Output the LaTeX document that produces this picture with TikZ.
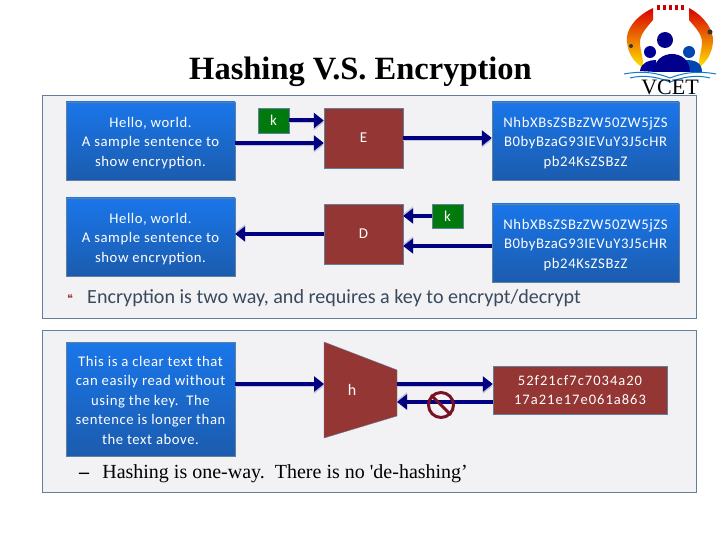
\documentclass[tikz,border=0pt]{standalone}
\usepackage{fontspec}
\setmainfont{Liberation Serif}
\newfontfamily\rawserif{Liberation Serif}
\newfontfamily\calfont{Carlito}
\newfontfamily\boxfont[LetterSpace=4]{Carlito}
\newfontfamily\hexfont[LetterSpace=7]{Carlito}
\newfontfamily\symfont{DejaVu Sans}
\usetikzlibrary{arrows.meta}
\definecolor{panelfill}{HTML}{F2F2F4}
\definecolor{panelline}{HTML}{627F9E}
\definecolor{blueup}{HTML}{1A76EA}
\definecolor{bluedn}{HTML}{1B5CAE}
\definecolor{brownbox}{HTML}{943634}
\definecolor{greenbox}{HTML}{007A0C}
\definecolor{navyarr}{HTML}{000080}
\definecolor{shadearr}{HTML}{C4C4DE}
\definecolor{bodytext}{HTML}{3A4A5C}
\definecolor{noring}{HTML}{7A1226}
\newcommand{\topstrut}[1]{\rule{0pt}{#1pt}}

\begin{document}
\begin{tikzpicture}[
    x=1pt, y=-1pt,
    panel/.style={draw=panelline, fill=panelfill, line width=1pt, minimum width=654pt},
    bluebox/.style={draw=panelline, top color=blueup, bottom color=bluedn, text=white, align=center, font=\boxfont\fontsize{14.7}{19.5}\selectfont, minimum width=169pt, minimum height=78pt, inner sep=0pt},
    brown/.style={draw=panelline, fill=brownbox, text=white, align=center, font=\calfont\fontsize{15}{19}\selectfont, minimum width=79pt, minimum height=60pt, inner sep=0pt},
    keybox/.style={draw=panelline, fill=greenbox, text=white, font=\calfont\fontsize{15}{15}\selectfont, minimum width=31pt, minimum height=25pt, inner sep=0pt},
    nosign/.style={circle, draw=noring, line width=3pt, minimum size=25pt, inner sep=0pt},
    rarr/.style={-{Triangle[length=10pt,width=15pt]}, line width=4pt, navyarr, preaction={draw=shadearr, -{Triangle[length=10pt,width=15pt]}, transform canvas={yshift=-2pt}}},
    larr/.style={-{Triangle[length=10pt,width=15pt]}, line width=4pt, navyarr, preaction={draw=shadearr, -{Triangle[length=10pt,width=15pt]}, transform canvas={yshift=2pt}}}
]
\useasboundingbox (0,0) rectangle (720,540);
\fill[white] (0,0) rectangle (720,540);

% logo
\shade[top color=red!85!black, bottom color=yellow!80!orange] (653,8) .. controls (636,16) and (625,30) .. (627,42) .. controls (628,54) and (634,62) .. (643,68) .. controls (644,60) and (640,50) .. (640,42) .. controls (640,34) and (648,26) .. (653,20) -- cycle;
\shade[top color=red!85!black, bottom color=yellow!80!orange] (689,8) .. controls (704,16) and (714,30) .. (713,42) .. controls (712,54) and (706,62) .. (699,68) .. controls (698,60) and (702,50) .. (702,42) .. controls (702,34) and (694,26) .. (689,20) -- cycle;
\foreach \bx in {658,664,670,676,682}
    \fill[red!80!black] (\bx-1.5,5) rectangle (\bx+1.5,10);
\fill[black!80] (631,46) circle (2pt) (710,32) circle (2.5pt);
\fill[blue!60!black] (640,71) .. controls (641,62) and (650,60) .. (656,60) -- (656,72) -- cycle;
\fill[blue!60!cyan!70!black] (702,72) .. controls (702,62) and (694,60) .. (686,60) -- (686,72) -- cycle;
\fill[blue!60!black] (650,52) circle (6pt);
\fill[blue!60!cyan!70!black] (689,52) circle (6pt);
\fill[blue!55!black] (665,40) circle (8pt);
\fill[blue!55!black] (654,72) .. controls (654,48) and (690,48) .. (690,72) -- cycle;
\draw[cyan!60!blue, line width=1pt] (624,74) .. controls (645,70) and (660,74) .. (670,78) .. controls (680,74) and (695,70) .. (716,74);
\draw[cyan!60!blue, line width=1pt] (630,78) .. controls (645,74) and (660,78) .. (670,82) .. controls (680,78) and (695,74) .. (710,78);
\node[font=\fontsize{22}{22}\selectfont, inner sep=0pt] (logotext) at (670,87) {VCET};

% title
\node[font=\bfseries\fontsize{32.5}{32}\selectfont, inner sep=0pt] (title) at (360.5,72) {Hashing V.S. Encryption};

% panels
\node[panel, minimum height=222pt] (enc) at (369,207) {};
\node[panel, minimum height=162pt] (hsh) at (369,411) {};

% encryption row
\node[bluebox] (P1) at (150.5,141) {\topstrut{14}Hello, world.\\A sample sentence to\\show encryption.};
\node[bluebox] (P2) at (150.5,237) {\topstrut{14}Hello, world.\\A sample sentence to\\show encryption.};
\node[bluebox, minimum width=187pt] (C1) at (585.5,141) {\topstrut{14}NhbXBsZSBzZW50ZW5jZS\\B0byBzaG93IEVuY3J5cHR\\pb24KsZSBzZ};
\node[bluebox, minimum width=187pt] (C2) at (585.5,243) {\topstrut{14}NhbXBsZSBzZW50ZW5jZS\\B0byBzaG93IEVuY3J5cHR\\pb24KsZSBzZ};
\node[brown] (E) at (363.5,138) {E};
\node[brown] (D) at (363.5,234) {D};
\node[keybox] (k1) at (273.5,120.5) {k};
\node[keybox, minimum height=24pt] (k2) at (447.5,216) {k};

\draw[rarr] (k1.east) -- (k1.east -| E.west);
\draw[rarr] ([yshift=-2pt]P1.east) -- ([yshift=-2pt]P1.east -| E.west);
\draw[rarr] (E.east) -- (E.east -| C1.west);
\draw[larr] (D.west) -- (D.west -| P2.east);
\draw[larr] (k2.west) -- (k2.west -| D.east);
\draw[larr] ([yshift=-3pt]C2.west) -- ([yshift=-3pt]C2.west -| D.east);

\node[text=brownbox, font=\symfont\fontsize{11}{11}\selectfont, inner sep=0pt] (bull) at (70,298) {❝};
\node[text=bodytext, font=\calfont\fontsize{20.1}{22}\selectfont, anchor=west, inner sep=0pt] (enctext) at (87,298.5) {Encryption is two way, and requires a key to encrypt/decrypt};

% hashing row
\node[bluebox, minimum height=114pt] (P3) at (150.5,399) {\topstrut{13}This is a clear text that\\can easily read without\\using the key.\ \ The\\sentence is longer than\\the text above.};
\coordinate (Hw) at (324,390);
\coordinate (He) at (397,393);
\draw[draw=panelline, fill=brownbox] (324,342) -- (397,370) -- (397,416) -- (324,438) -- cycle;
\node[text=white, font=\calfont\fontsize{16}{16}\selectfont, inner sep=0pt] (hlabel) at (352,390) {h};
\node[brown, minimum width=174pt, minimum height=48pt, font=\hexfont\fontsize{14.5}{19}\selectfont] (hval) at (580,390) {52f21cf7c7034a20\\17a21e17e061a863};

\draw[rarr] ([yshift=15pt]P3.east) -- ([yshift=15pt]P3.east -| Hw);
\draw[rarr] ([yshift=9pt]He) -- ([yshift=9pt]He -| hval.west);
\draw[larr] ([yshift=-12pt]hval.west) -- ([yshift=-12pt]hval.west -| He);
\node[nosign] (no) at (441,405) {};
\draw[noring, line width=3pt] (no.north west) -- (no.south east);

\node[font=\fontsize{20}{22}\selectfont, anchor=west, inner sep=0pt] (hshtext) at (79,474) {\textbf{--}\hspace{13pt}Hashing is one-way.\ \ There is no {\rawserif'}de-hashing’};
\end{tikzpicture}
\end{document}
